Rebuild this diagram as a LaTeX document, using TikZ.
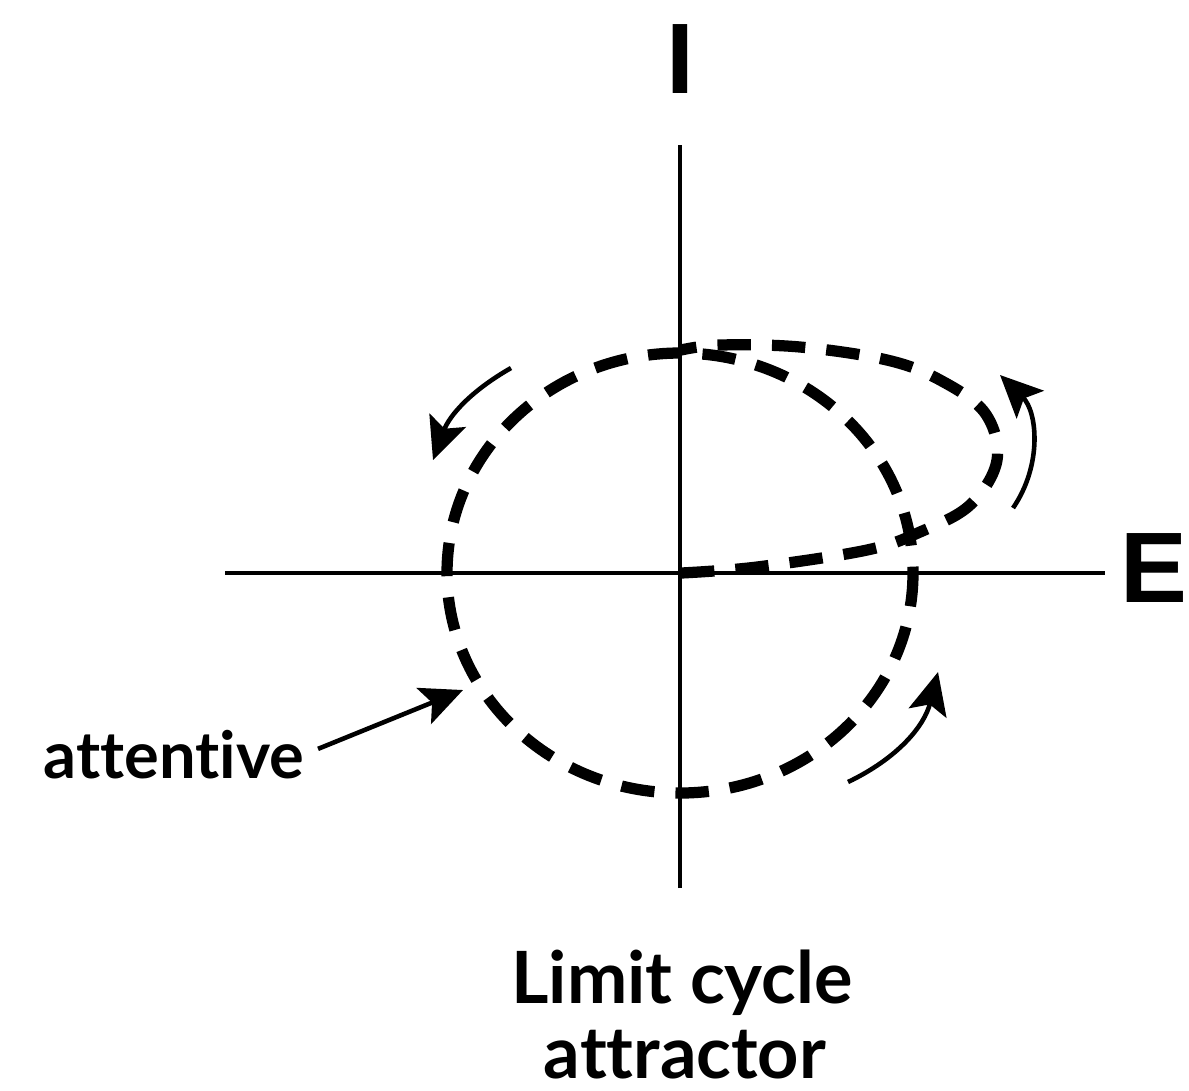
\documentclass[tikz,border=0pt]{standalone}
\usepackage{fontspec}
\setmainfont{Lato}[Ligatures={NoCommon,NoContextual}]
\newfontfamily\axisfont{Liberation Sans}
\usetikzlibrary{arrows.meta}
\begin{document}
\begin{tikzpicture}[x=0.01cm,y=-0.01cm,
  axis/.style={line width=1.2pt},
  orbit/.style={line width=3.2pt, dash pattern=on 9.5pt off 6pt},
  flow/.style={line width=1.3pt, -{Stealth[length=12pt,width=11pt,inset=2.5pt]}},
  lbl/.style={font=\fontsize{18.5}{22}\selectfont\bfseries, inner sep=0pt},
  title/.style={font=\fontsize{20.5}{24}\selectfont\bfseries, inner sep=0pt},
  axlbl/.style={font=\axisfont\fontsize{28.5}{30}\selectfont\bfseries, inner sep=0pt}]
\useasboundingbox (0,0) rectangle (1189,1090);
% axes
\coordinate (O) at (680,573);
\coordinate (Itop) at (680,145);
\coordinate (Ibot) at (680,888);
\coordinate (Eleft) at (225,573);
\coordinate (Eright) at (1105,573);
\draw[axis] (Ibot) -- (Itop);
\draw[axis] (Eleft) -- (Eright);
\node[axlbl, anchor=base] (I) at (680,93) {I};
\node[axlbl, anchor=base west] (E) at (1120,602) {E};
% limit cycle
\draw[orbit] (O) ellipse [x radius=233, y radius=220];
% excursion loop
\draw[orbit] plot[smooth, tension=0.6] coordinates {(681,573) (757,567) (867,550) (920,532) (970,505) (997,460) (985,413) (940,380) (887,360) (800,347) (720,345) (681,350)};
% flow arrows
\coordinate (a1s) at (511,368);
\coordinate (a1e) at (433,460);
\draw[flow] (a1s) to[bend right=20] (a1e);
\coordinate (a2s) at (1013,508);
\coordinate (a2e) at (1000,375);
\draw[flow] (a2s) to[bend right=40] (a2e);
\coordinate (a3s) at (848,782);
\coordinate (a3e) at (938,672);
\draw[flow] (a3s) to[bend right=25] (a3e);
% labels
\node[lbl, anchor=base east] (att) at (305,778) {attentive};
\coordinate (attp) at (463,690);
\draw[flow, shorten <=4pt] (att.east) -- (attp);
\node[title, anchor=base] (lc1) at (682,1003) {Limit cycle};
\node[title, anchor=base] (lc2) at (685,1078) {attractor};
\end{tikzpicture}
\end{document}
